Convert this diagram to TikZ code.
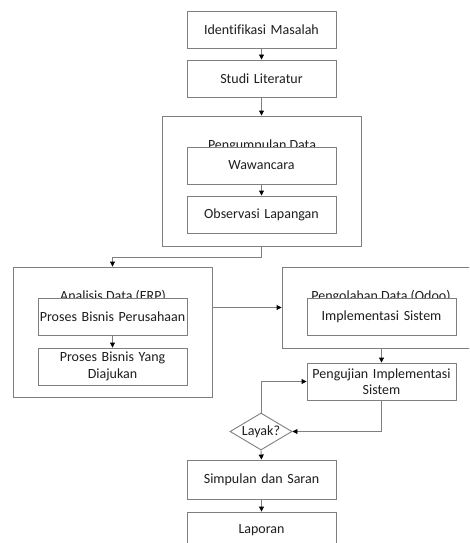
\documentclass[tikz,border=0pt]{standalone}
\usepackage{fontspec}
\setmainfont{Carlito}[Ligatures=NoCommon]
\usetikzlibrary{arrows.meta,shapes.geometric}
\definecolor{lc}{HTML}{7F7F7F}
\definecolor{tc}{HTML}{1E1E1E}
\tikzset{
  base/.style={font=\fontsize{14}{16.5}\selectfont, text=tc},
  bx/.style={base, draw=lc, line width=0.9pt, fill=white, minimum width=149pt, minimum height=37pt, inner sep=1pt, align=center, text width=147pt},
  outer/.style={draw=lc, line width=0.9pt, fill=white, inner sep=0pt},
  lbl/.style={base, anchor=base, inner sep=0pt},
  con/.style={draw=lc, line width=0.9pt},
  arr/.style={con, -{Triangle[length=5pt,width=5pt,color=black]}},
}
\begin{document}
\begin{tikzpicture}[x=1pt,y=-1pt]
\useasboundingbox (0,0) rectangle (469,543);
\clip (0,0) rectangle (469,543);
% outer groups
\node[outer, minimum width=199pt, minimum height=130pt] (g1) at (261.5,181) {};
\node[outer, minimum width=199pt, minimum height=130pt] (g2) at (112.5,332) {};
\node[outer, minimum width=199pt, minimum height=81pt] (g3) at (381.5,307.5) {};
\node[lbl] (l1) at (262,149) {Pengumpulan Data};
\node[lbl] (l2) at (113,300) {Analisis Data (ERP)};
\node[lbl] (l3) at (381,300) {Pengolahan Data (Odoo)};
% boxes
\node[bx] (b1) at (261.5,29.5) {Identifikasi Masalah};
\node[bx] (b2) at (261.5,78.5) {Studi Literatur};
\node[bx] (w) at (261.5,165.5) {Wawancara};
\node[bx] (o) at (261.5,214.5) {Observasi Lapangan};
\node[bx] (p1) at (112.5,317) {Proses Bisnis Perusahaan};
\node[bx] (p2) at (112.5,366.5) {Proses Bisnis Yang\\Diajukan};
\node[bx] (im) at (381.5,317) {Implementasi Sistem};
\node[bx] (uj) at (381.5,381.5) {Pengujian Implementasi\\Sistem};
\node[base, draw=lc, line width=0.9pt, fill=white, shape=diamond, aspect=1.68, inner sep=0pt, minimum width=62pt, minimum height=37pt] (ly) at (261,431.5) {Layak?};
\node[bx, minimum height=39pt] (s) at (261.5,479.5) {Simpulan dan Saran};
\node[bx] (lp) at (261.5,530.5) {Laporan};
% connectors
\draw[arr] (b1) -- (b2);
\draw[arr] (b2) -- (g1);
\draw[arr] (w) -- (o);
\draw[arr] (g1.south) -- ++(0,11) -| (g2.north);
\draw[arr] (p1) -- (p2);
\draw[arr] (g2.east |- g3.west) -- (g3.west);
\draw[arr] (g3.south) -- (uj.north);
\draw[arr] (uj.south) |- (ly.east);
\draw[arr] (ly.north) |- (uj.west);
\draw[arr] (ly.south) -- (s.north);
\draw[arr] (s) -- (lp);
\end{tikzpicture}
\end{document}
